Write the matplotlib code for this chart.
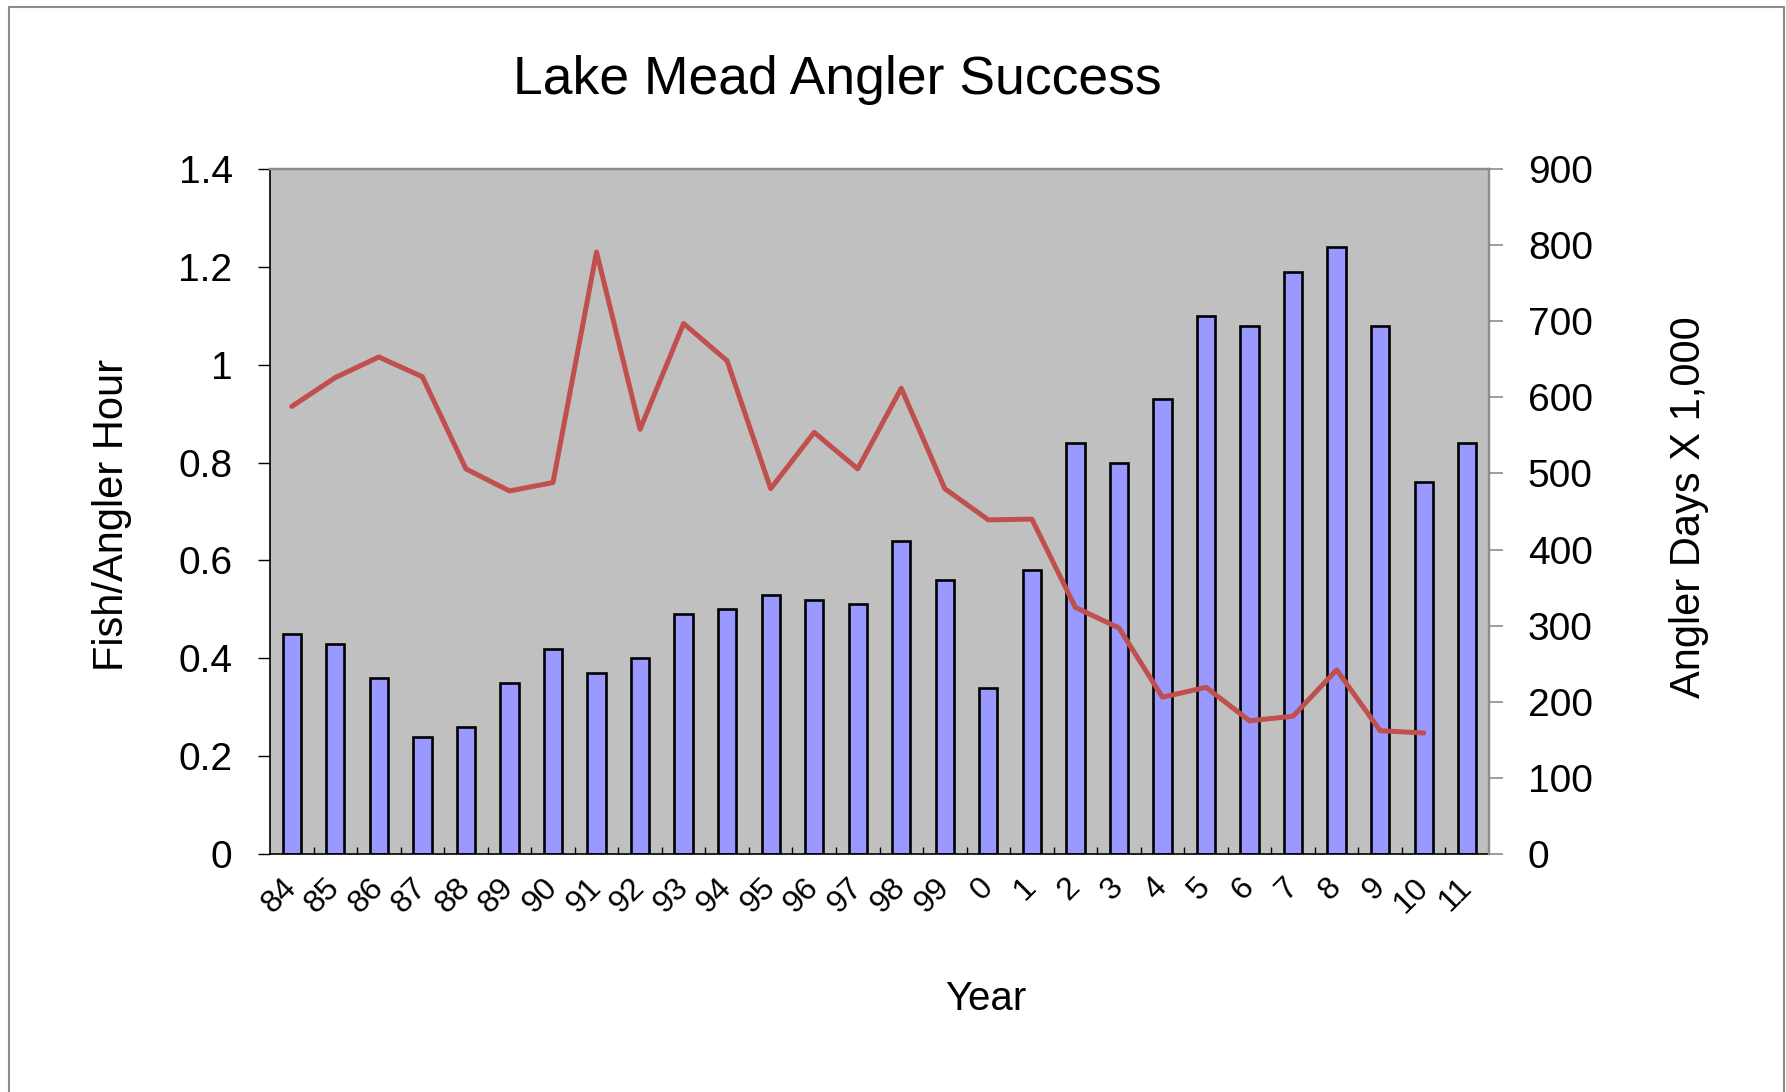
"""
Lake Mead Angler Success: bars = fish per angler hour (left axis),
line = angler days in thousands (right axis).
"""
import matplotlib
matplotlib.use("Agg")
import matplotlib.pyplot as plt
from matplotlib.lines import Line2D
import numpy as np

# ---- data ----
years = ["84", "85", "86", "87", "88", "89", "90", "91", "92", "93", "94",
         "95", "96", "97", "98", "99", "0", "1", "2", "3", "4", "5", "6",
         "7", "8", "9", "10", "11"]
fish_per_hour = [0.45, 0.43, 0.36, 0.24, 0.26, 0.35, 0.42, 0.37, 0.40, 0.49,
                 0.50, 0.53, 0.52, 0.51, 0.64, 0.56, 0.34, 0.58, 0.84, 0.80,
                 0.93, 1.10, 1.08, 1.19, 1.24, 1.08, 0.76, 0.84]
angler_days = [588, 626, 653, 627, 506, 477, 488, 791, 558, 697, 648, 480,
               554, 506, 612, 480, 439, 440, 324, 297, 206, 219, 175, 181,
               242, 162, 159, np.nan]
left_ticks = [0, 0.2, 0.4, 0.6, 0.8, 1.0, 1.2, 1.4]
right_ticks = [0, 100, 200, 300, 400, 500, 600, 700, 800, 900]

plt.rcParams["font.family"] = ["Liberation Sans", "DejaVu Sans"]

W, H = 1786, 1092
fig = plt.figure(figsize=(W / 100, H / 100), dpi=100)

# plot area in pixels: x 270..1489, y 169..854
ax = fig.add_axes([270 / W, 1 - 854 / H, (1489 - 270) / W, (854 - 169) / H])
ax.set_facecolor("#C0C0C0")

x = np.arange(len(years))
ax.bar(x, fish_per_hour, width=0.42, color="#9999FF", edgecolor="black",
       linewidth=1.9, zorder=2)

ax.set_xlim(-0.5, len(years) - 0.5)
ax.set_ylim(0, 1.4)
ax.set_yticks(left_ticks)
ax.set_yticklabels([f"{v:g}" for v in left_ticks])
ax.set_xticks(x)
ax.set_xticklabels(years)
ax.set_xticks(np.arange(0.5, len(years) - 1, 1), minor=True)

ax.tick_params(axis="y", direction="out", length=9, width=1.0,
               labelsize=28, pad=18)
ax.tick_params(axis="x", which="major", length=0, labelsize=23, pad=21)
ax.tick_params(axis="x", which="minor", direction="in", length=5, width=1.0)
for lab in ax.get_xticklabels():
    lab.set_rotation(45)
    lab.set_rotation_mode("anchor")
    lab.set_ha("right")
    lab.set_va("center")

for side in ("left", "bottom"):
    ax.spines[side].set_color("black")
    ax.spines[side].set_linewidth(1.2)
for side in ("top", "right"):
    ax.spines[side].set_color("#8C8C8C")
    ax.spines[side].set_linewidth(1.6)

# ---- right axis: angler days ----
ax2 = ax.twinx()
ax2.plot(x, angler_days, color="#C0504D", linewidth=3.6,
         solid_joinstyle="round", solid_capstyle="round", zorder=3)
ax2.set_ylim(0, 900)
ax2.set_yticks(right_ticks)
ax2.tick_params(axis="y", direction="out", length=10, width=1.2,
                color="#8C8C8C", labelsize=28, pad=18)
for side in ("left", "bottom"):
    ax2.spines[side].set_visible(False)
ax2.spines["right"].set_color("#8C8C8C")
ax2.spines["right"].set_linewidth(1.6)
ax2.spines["top"].set_color("#8C8C8C")
ax2.spines["top"].set_linewidth(1.6)

# ---- texts ----
fig.text(837 / W, 1 - 80 / H, "Lake Mead Angler Success", ha="center",
         va="center", fontsize=38.5)
fig.text(986 / W, 1 - 999 / H, "Year", ha="center", va="center", fontsize=29)
fig.text(112 / W, 1 - 515 / H, "Fish/Angler Hour", rotation=90,
         ha="center", va="center", fontsize=30)
fig.text(1689 / W, 1 - 507 / H, "Angler Days X 1,000", rotation=90,
         ha="center", va="center", fontsize=30)

# ---- thin gray frame around the chart (open at the bottom) ----
bx0, by0, bx1 = 9 / W, 1 - 7 / H, 1784 / W
for xs, ys in (([bx0, bx0], [0, by0]), ([bx0, bx1], [by0, by0]),
               ([bx1, bx1], [by0, 0])):
    fig.add_artist(Line2D(xs, ys, transform=fig.transFigure,
                          color="#8C8C8C", linewidth=1.5))

fig.savefig("out.png", dpi=100)
plt.close(fig)
